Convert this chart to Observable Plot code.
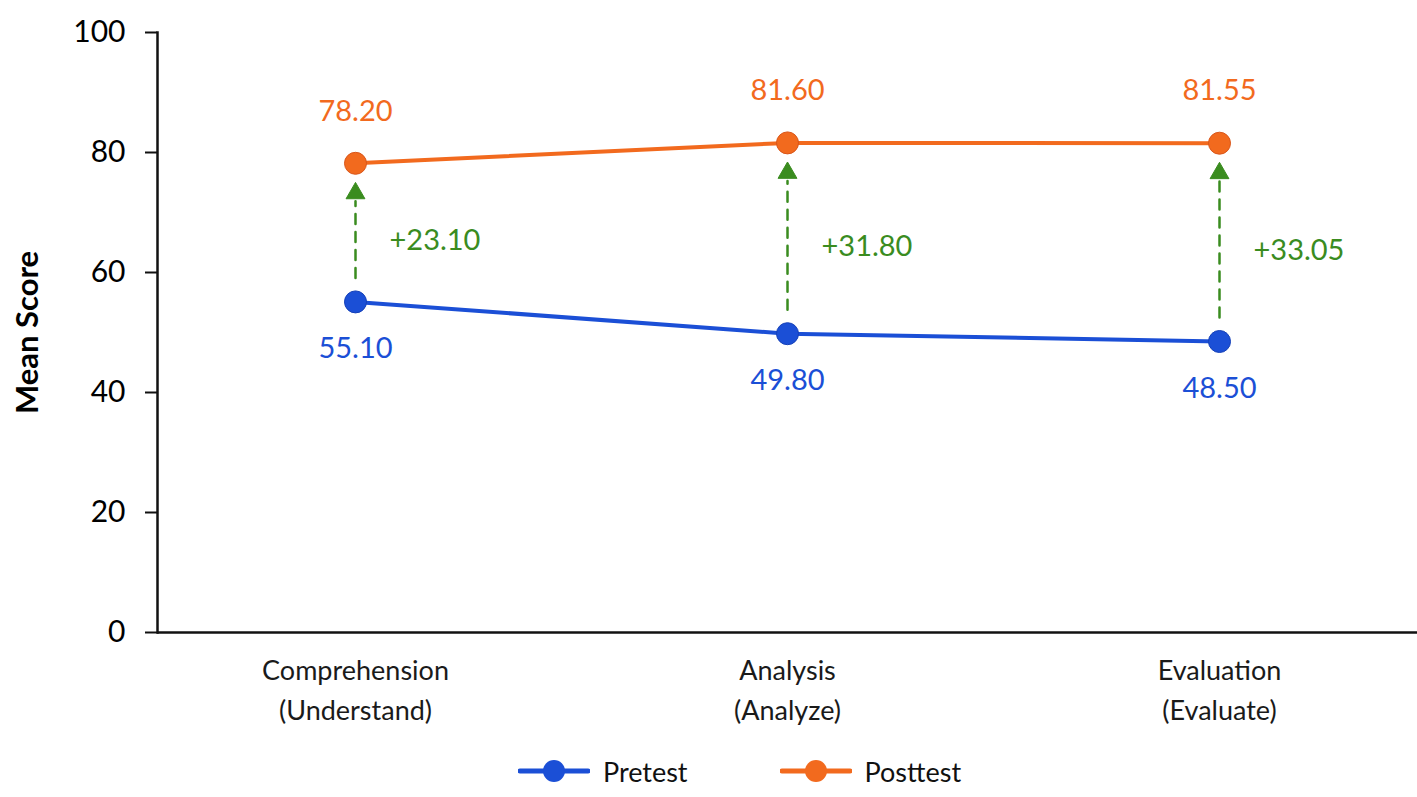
<!DOCTYPE html>
<html>
<head>
<meta charset="utf-8">
<script src="https://cdn.jsdelivr.net/npm/d3@7"></script>
<script src="https://cdn.jsdelivr.net/npm/@observablehq/plot@0.6"></script>
<style>
  html, body { margin: 0; padding: 0; background: #ffffff; }
  body { width: 1417px; height: 797px; overflow: hidden; font-family: Lato, "Open Sans", sans-serif; }
  #legend { display: flex; justify-content: center; align-items: center; height: 52px; font-size: 27px; color: #111; padding-left: 62px; }
  .item { display: flex; align-items: center; margin: 0 46px; }
  .item svg { margin-right: 13px; }
</style>
</head>
<body>
<div id="chart"></div>
<div id="legend"></div>
<script>
const categories = ["Comprehension\n(Understand)", "Analysis\n(Analyze)", "Evaluation\n(Evaluate)"];
const pretest = [55.10, 49.80, 48.50];
const posttest = [78.20, 81.60, 81.55];
const gains = ["+23.10", "+31.80", "+33.05"];
const yTicks = [0, 20, 40, 60, 80, 100];
const seriesNames = ["Pretest", "Posttest"];
const colors = {Pretest: "#1b4fd6", Posttest: "#f26a1e"};
const green = "#3a8c1f";

const rows = categories.flatMap((c, i) => [
  {cat: c, series: "Pretest", value: pretest[i]},
  {cat: c, series: "Posttest", value: posttest[i]}
]);
const pairs = categories.map((c, i) => ({cat: c, pre: pretest[i], post: posttest[i], mid: (pretest[i] + posttest[i]) / 2, gain: gains[i]}));

const chart = Plot.plot({
  width: 1417,
  height: 745,
  marginLeft: 157,
  marginRight: 0,
  marginTop: 32,
  marginBottom: 113,
  style: {fontFamily: "Lato, sans-serif", background: "transparent", color: "#111"},
  x: {type: "point", domain: categories, padding: 0.458, label: null},
  y: {domain: [0, 100], label: null},
  marks: [
    Plot.axisY({ticks: yTicks, tickSize: 12, tickPadding: 20, fontSize: 30, stroke: "#111", strokeWidth: 2, color: "#000", label: null}),
    Plot.axisX({tickSize: 0, tickPadding: 19, fontSize: 27, lineHeight: 1.48, label: null, color: "#1a1a1a"}),
    Plot.frame({anchor: "left", stroke: "#111", strokeWidth: 2.5}),
    Plot.ruleY([0], {stroke: "#111", strokeWidth: 2.5}),
    Plot.text(["Mean Score"], {frameAnchor: "left", textAnchor: "middle", rotate: -90, dx: -129, fontSize: 31, fontWeight: "bold", fill: "#000"}),
    Plot.arrow(pairs, {x1: "cat", x2: "cat", y1: "pre", y2: "post", insetStart: 24, insetEnd: 38, headLength: 0, stroke: green, strokeWidth: 2.5, strokeDasharray: "10,8"}),
    Plot.dot(pairs, {x: "cat", y: "post", dy: 30, symbol: "triangle", r: 7, fill: green, stroke: green, strokeWidth: 1}),
    Plot.line(rows, {x: "cat", y: "value", z: "series", stroke: d => colors[d.series], strokeWidth: 4}),
    Plot.dot(rows, {x: "cat", y: "value", r: 11, fill: d => colors[d.series], stroke: d => d.series === "Posttest" ? "#d9561a" : "#1641b8", strokeWidth: 1}),
    Plot.text(pairs, {x: "cat", y: "post", text: d => d.post.toFixed(2), dy: -52, fontSize: 29, fill: colors.Posttest}),
    Plot.text(pairs, {x: "cat", y: "pre", text: d => d.pre.toFixed(2), dy: 47, fontSize: 29, fill: colors.Pretest}),
    Plot.text(pairs, {x: "cat", y: "mid", text: "gain", dx: 34, dy: 8, textAnchor: "start", fontSize: 29, fill: green})
  ]
});
document.getElementById("chart").appendChild(chart);

const legend = document.getElementById("legend");
seriesNames.forEach(name => {
  const item = document.createElement("div");
  item.className = "item";
  item.innerHTML = `<svg width="72" height="26"><line x1="2" x2="70" y1="13" y2="13" stroke="${colors[name]}" stroke-width="5" stroke-linecap="round"/><circle cx="36" cy="13" r="11" fill="${colors[name]}"/></svg><span>${name}</span>`;
  legend.appendChild(item);
});
</script>
</body>
</html>
